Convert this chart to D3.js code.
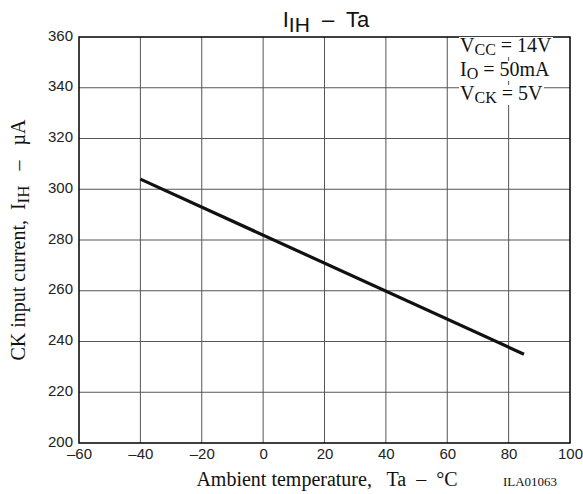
<!DOCTYPE html>
<html>
<head>
<meta charset="utf-8">
<script src="https://cdn.jsdelivr.net/npm/d3@7/dist/d3.min.js"></script>
<style>
  body { margin: 0; background: #fff; }
  svg { display: block; }
</style>
</head>
<body>
<svg id="chart" width="583" height="494"></svg>
<script>
// data
const xTicks = [-60, -40, -20, 0, 20, 40, 60, 80, 100];
const yTicks = [200, 220, 240, 260, 280, 300, 320, 340, 360];
const lineTa = [-40, 85];
const lineIih = [304, 235];
const conditions = [
  { main: "V", sub: "CC", rest: " = 14V" },
  { main: "I", sub: "O", rest: " = 50mA" },
  { main: "V", sub: "CK", rest: " = 5V" }
];

const sans = "'Liberation Sans', Arial, sans-serif";
const serif = "'Liberation Serif', 'Times New Roman', serif";

const margin = { top: 37, right: 13, bottom: 51, left: 79 };
const width = 583 - margin.left - margin.right,
      height = 494 - margin.top - margin.bottom;

const svg = d3.select("#chart");
const g = svg.append("g")
  .attr("transform", "translate(" + margin.left + "," + margin.top + ")");

const x = d3.scaleLinear().domain([-60, 100]).range([0, width]);
const y = d3.scaleLinear().domain([200, 360]).range([height, 0]);

// grid
g.append("g").selectAll("line")
  .data(xTicks.slice(1, -1))
  .enter().append("line")
  .attr("x1", d => x(d)).attr("x2", d => x(d))
  .attr("y1", 0).attr("y2", height)
  .attr("stroke", "#555").attr("stroke-width", 1);
g.append("g").selectAll("line")
  .data(yTicks.slice(1, -1))
  .enter().append("line")
  .attr("x1", 0).attr("x2", width)
  .attr("y1", d => y(d)).attr("y2", d => y(d))
  .attr("stroke", "#555").attr("stroke-width", 1);

// frame
g.append("rect")
  .attr("width", width).attr("height", height)
  .attr("fill", "none").attr("stroke", "#000").attr("stroke-width", 1.5);

// tick labels
const xAxis = g.append("g")
  .attr("transform", "translate(0," + height + ")")
  .call(d3.axisBottom(x).tickValues(xTicks).tickSize(0).tickPadding(5)
    .tickFormat(d => d < 0 ? "\u2013" + Math.abs(d) : d));
const yAxis = g.append("g")
  .call(d3.axisLeft(y).tickValues(yTicks).tickSize(0).tickPadding(6));
[xAxis, yAxis].forEach(a => {
  a.select(".domain").remove();
  a.selectAll("text").attr("font-family", sans).attr("font-size", 15).attr("fill", "#222");
});
yAxis.selectAll("text").attr("dy", "0.2em");

// data line
const pts = lineTa.map((t, i) => [t, lineIih[i]]);
g.append("path")
  .datum(pts)
  .attr("d", d3.line().x(d => x(d[0])).y(d => y(d[1])))
  .attr("fill", "none").attr("stroke", "#111").attr("stroke-width", 3.2);

// conditions box text, white behind
const cond = g.append("g");
conditions.forEach((c, i) => {
  const t = cond.append("text")
    .attr("x", 381).attr("y", 15 + i * 24)
    .attr("font-family", serif).attr("font-size", 20).attr("fill", "#111");
  t.append("tspan").text(c.main);
  t.append("tspan").attr("dy", 3).attr("font-size", 16).text(c.sub);
  t.append("tspan").attr("dy", -3).text(c.rest);
  const bb = t.node().getBBox();
  cond.insert("rect", "text")
    .attr("x", bb.x - 1).attr("y", bb.y + 3)
    .attr("width", bb.width + 2).attr("height", bb.height - 4)
    .attr("fill", "#fff");
});

// title
const title = svg.append("text")
  .attr("x", 326).attr("y", 27)
  .attr("text-anchor", "middle")
  .attr("font-family", sans).attr("font-size", 22).attr("fill", "#111")
  .attr("xml:space", "preserve");
title.append("tspan").text("I");
title.append("tspan").attr("dy", 5).attr("font-size", 21).text("IH");
title.append("tspan").attr("dy", -5).text("  \u2013  Ta");

// x axis title
svg.append("text")
  .attr("x", 327).attr("y", 486)
  .attr("text-anchor", "middle")
  .attr("font-family", serif).attr("font-size", 20).attr("fill", "#111")
  .attr("xml:space", "preserve")
  .text("Ambient temperature,   Ta  \u2013  \u00B0C");
svg.append("text")
  .attr("x", 530).attr("y", 486)
  .attr("text-anchor", "middle")
  .attr("font-family", serif).attr("font-size", 13).attr("fill", "#111")
  .text("ILA01063");

// y axis title
const yt = svg.append("text")
  .attr("transform", "translate(25," + (margin.top + height / 2) + ") rotate(-90)")
  .attr("text-anchor", "middle")
  .attr("font-family", serif).attr("font-size", 20).attr("fill", "#111")
  .attr("xml:space", "preserve");
yt.append("tspan").text("CK input current,  I");
yt.append("tspan").attr("dy", 4).attr("font-size", 17).text("IH");
yt.append("tspan").attr("dy", -4).text("   \u2013   \u00B5A");
</script>
</body>
</html>
